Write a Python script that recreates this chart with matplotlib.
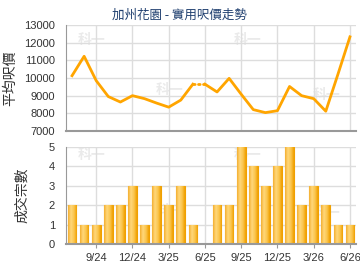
import numpy as np
import matplotlib.pyplot as plt
from matplotlib.colors import LinearSegmentedColormap

plt.rcParams['font.family'] = ['Liberation Sans', 'Noto Sans CJK TC', 'DejaVu Sans']

title = '加州花園 - 實用呎價走勢'
price_label = '平均呎價'
count_label = '成交宗數'

months = list(range(24))
tick_pos = [2, 5, 8, 11, 14, 17, 20, 23]
tick_labels = ['9/24', '12/24', '3/25', '6/25', '9/25', '12/25', '3/26', '6/26']

# average price per sq ft, month 11 had no deals (carried forward, drawn dotted)
prices = [10130, 11230, 9850, 8950, 8640, 9000, 8830, 8580, 8350, 8750, 9650,
          9650, 9210, 9980, 9080, 8210, 8040, 8150, 9520, 9000, 8830, 8120,
          10200, 12330]
no_deal = [11]
counts = [2, 1, 1, 2, 2, 3, 1, 3, 2, 3, 1, 0, 2, 2, 5, 4, 3, 4, 5, 2, 3, 2, 1, 1]

fig = plt.figure(figsize=(3.6, 2.7), dpi=100)
ax1 = fig.add_axes([66 / 360, 1 - 131 / 270, 290 / 360, 106 / 270])
ax2 = fig.add_axes([66 / 360, 1 - 244 / 270, 290 / 360, 97 / 270])

grid_c = '#DDDDDD'
line_c = '#FFA500'
text_c = '#333333'
cjk = ['Noto Sans CJK TC', 'DejaVu Sans']

for ax in (ax1, ax2):
    ax.set_xlim(-0.5, 23.5)
    ax.set_xticks(tick_pos)
    ax.grid(True, color=grid_c, linewidth=1)
    ax.set_axisbelow(True)
    for s in ('top', 'right'):
        ax.spines[s].set_visible(False)
    ax.spines['left'].set_color('#999999')
    ax.spines['bottom'].set_color('#999999')
    ax.spines['bottom'].set_linewidth(1.5)
    ax.tick_params(colors=text_c, labelsize=8, length=3, color='#999999')
    ax.tick_params(axis='y', length=0, pad=8)

# watermarks
for ax, spots in ((ax1, [(0.04, 0.82), (0.58, 0.82), (0.31, 0.35), (0.85, 0.30)]),
                  (ax2, [(0.04, 0.88), (0.58, 0.88), (0.31, 0.30), (0.85, 0.28)])):
    for x, y in spots:
        ax.text(x, y, '科一', transform=ax.transAxes, fontsize=10, fontweight='bold',
                color='#EAEAEA', zorder=0.5, family=cjk)

# price line: solid except segments ending at a no-deal month
p = np.array(prices, dtype=float)
for i in no_deal:
    seg = np.full(24, np.nan)
    seg[i - 1:i + 1] = p[i - 1:i + 1]
    ax1.plot(months, seg, color=line_c, linewidth=2, linestyle=(0, (0.6, 1.2)),
             dash_capstyle='round')
x_pts = []
y_pts = []
for i in months:
    if i in no_deal:
        x_pts.append(np.nan)
        y_pts.append(np.nan)
    x_pts.append(i)
    y_pts.append(p[i])
ax1.plot(x_pts, y_pts, color=line_c, linewidth=2)
ax1.set_ylim(7000, 13000)
ax1.set_yticks(range(7000, 13001, 1000))
ax1.tick_params(axis='x', labelbottom=False, length=0)
ax1.set_ylabel(price_label, fontsize=10, color=text_c, labelpad=5, family=cjk)
fig.text(179 / 360, 1 - 15 / 270, title, fontsize=9, color='#1F3F6F',
         ha='center', va='center', family=cjk)

# bars with gradient fill
cmap = LinearSegmentedColormap.from_list(
    'bar', ['#F4B030', '#FFD77A', '#FBC650', '#F0A000'])
grad = np.linspace(0, 1, 64).reshape(1, -1)
bars = ax2.bar(months, counts, width=0.72, color='#F8B830', edgecolor='#F0A000',
               linewidth=0.8, zorder=2)
for b in bars:
    if b.get_height() <= 0:
        continue
    x0 = b.get_x()
    im = ax2.imshow(grad, cmap=cmap, aspect='auto', zorder=2.5,
                    extent=(x0, x0 + b.get_width(), 0, b.get_height()))
    im.set_clip_path(b)
ax2.set_xlim(-0.5, 23.5)
ax2.set_ylim(0, 5)
ax2.set_yticks(range(0, 6))
ax2.set_xticklabels(tick_labels)
ax2.set_ylabel(count_label, fontsize=10, color=text_c, labelpad=14, family=cjk)

fig.savefig('out.png', dpi=100)
